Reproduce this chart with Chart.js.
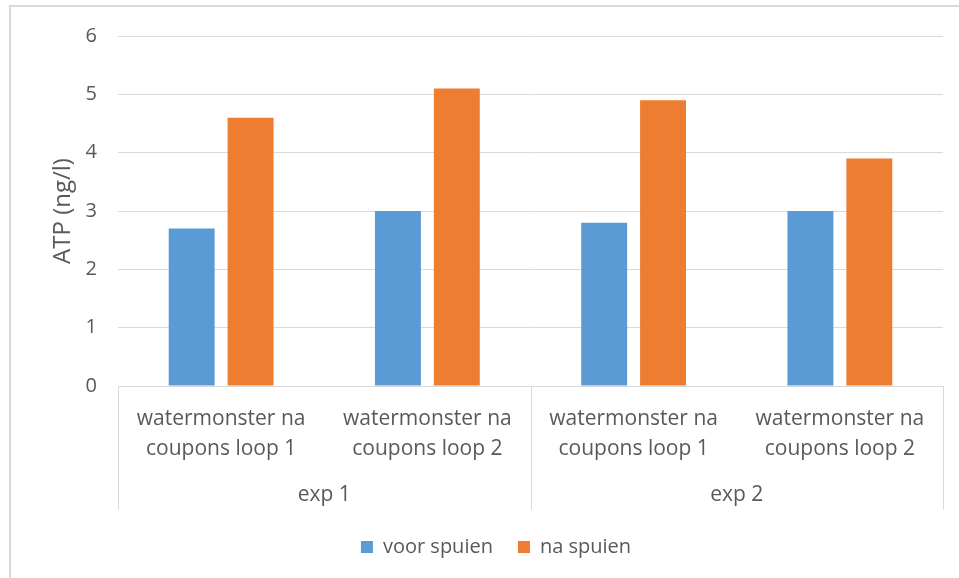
<!DOCTYPE html>
<html>
<head>
<meta charset="utf-8">
<script src="https://cdn.jsdelivr.net/npm/chart.js@4.4.1/dist/chart.umd.min.js"></script>
<style>
  html, body { margin: 0; padding: 0; background: #ffffff; }
  #wrap { position: relative; width: 959px; height: 578px; }
</style>
</head>
<body>
<div id="wrap"><canvas id="chart" width="959" height="578"></canvas></div>
<script>
// Sample categories (two lines each) and the experiment they belong to
const categories = [
  ['watermonster na', 'coupons loop 1'],
  ['watermonster na', 'coupons loop 2'],
  ['watermonster na', 'coupons loop 1'],
  ['watermonster na', 'coupons loop 2']
];
const groups = ['exp 1', 'exp 2'];
const groupSizes = [2, 2];

// ATP (ng/l) per sample
const voorSpuien = [2.7, 3.0, 2.8, 3.0];
const naSpuien = [4.6, 5.1, 4.9, 3.9];

const seriesNames = ['voor spuien', 'na spuien'];
const yMin = 0, yMax = 6, yStep = 1;
const yTitle = 'ATP (ng/l)';

const TEXT = '#595959';
const LINE = '#d9d9d9';
const FONT = "'Open Sans', 'DejaVu Sans', sans-serif";

// Outer chart frame (white fill + light border)
const framePlugin = {
  id: 'frame',
  beforeDraw(chart) {
    const ctx = chart.ctx;
    ctx.save();
    ctx.fillStyle = '#ffffff';
    ctx.fillRect(0, 0, chart.width, chart.height);
    ctx.strokeStyle = LINE;
    ctx.lineWidth = 2;
    ctx.beginPath();
    ctx.moveTo(10, chart.height);
    ctx.lineTo(10, 6);
    ctx.lineTo(chart.width, 6);
    ctx.stroke();
    ctx.restore();
  }
};

// Second category level: group separators and group labels under the x axis
const groupAxisPlugin = {
  id: 'groupAxis',
  afterDraw(chart) {
    const x = chart.scales.x;
    const ctx = chart.ctx;
    const top = chart.chartArea.bottom;
    const lineBottom = top + 124;
    const step = (x.right - x.left) / categories.length;
    ctx.save();
    ctx.strokeStyle = LINE;
    ctx.lineWidth = 1;
    let idx = 0;
    const bounds = [x.left];
    groupSizes.forEach(n => { idx += n; bounds.push(x.getPixelForValue(idx - 1) + step / 2); });
    bounds.forEach(px => {
      const p = Math.round(px) + 0.5;
      ctx.beginPath();
      ctx.moveTo(p, top);
      ctx.lineTo(p, lineBottom);
      ctx.stroke();
    });
    ctx.fillStyle = TEXT;
    ctx.font = "21px " + FONT;
    ctx.textAlign = 'center';
    ctx.textBaseline = 'middle';
    groups.forEach((g, i) => {
      ctx.fillText(g, (bounds[i] + bounds[i + 1]) / 2, top + 109);
    });
    ctx.restore();
  }
};

new Chart(document.getElementById('chart'), {
  type: 'bar',
  data: {
    labels: categories,
    datasets: [
      { label: seriesNames[0], data: voorSpuien, backgroundColor: '#5B9BD5' },
      { label: seriesNames[1], data: naSpuien, backgroundColor: '#ED7D31' }
    ]
  },
  options: {
    responsive: false,
    animation: false,
    devicePixelRatio: 1,
    categoryPercentage: 0.571,
    barPercentage: 0.78,
    layout: { padding: { left: 49, right: 16, top: 36, bottom: 11 } },
    plugins: {
      tooltip: { enabled: false },
      legend: {
        position: 'bottom',
        labels: {
          color: TEXT,
          font: { family: FONT, size: 20 },
          boxWidth: 12,
          boxHeight: 12,
          padding: 25
        }
      }
    },
    scales: {
      x: {
        grid: { display: false, drawTicks: false },
        border: { display: true, color: LINE, width: 1 },
        ticks: {
          color: TEXT,
          font: { family: FONT, size: 21, lineHeight: '30px' },
          padding: 18,
          maxRotation: 0,
          autoSkip: false
        },
        afterFit(scale) { scale.height = 126; }
      },
      y: {
        min: yMin,
        max: yMax,
        grid: { color: LINE, lineWidth: 1, drawTicks: false },
        border: { display: false },
        ticks: {
          stepSize: yStep,
          color: TEXT,
          font: { family: FONT, size: 20 },
          padding: 21
        },
        title: {
          display: true,
          text: yTitle,
          color: TEXT,
          font: { family: FONT, size: 24 },
          padding: { top: 0, bottom: 0 }
        },
        afterFit(scale) { scale.width = 69; }
      }
    }
  },
  plugins: [framePlugin, groupAxisPlugin]
});
</script>
</body>
</html>
